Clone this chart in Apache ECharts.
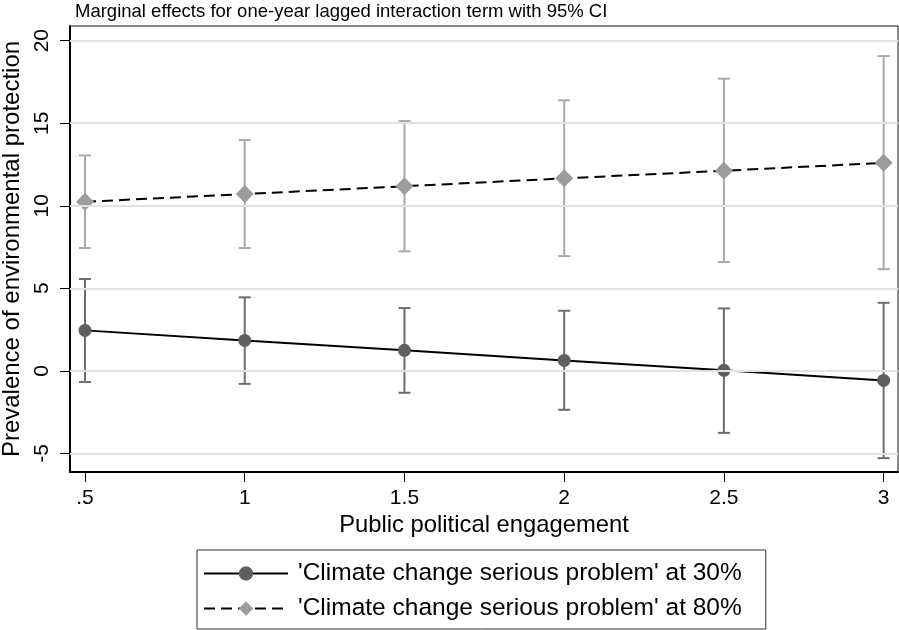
<!DOCTYPE html>
<html>
<head>
<meta charset="utf-8">
<script src="https://cdn.jsdelivr.net/npm/echarts@6/dist/echarts.min.js"></script>
<style>
  html, body { margin: 0; padding: 0; background: #fff; }
  #chart { width: 899px; height: 630px; }
</style>
</head>
<body>
<div id="chart"></div>
<script>
// Values of public political engagement at which marginal effects were computed
const engagement = [0.5, 1, 1.5, 2, 2.5, 3];
const xTicks = [0.5, 1, 1.5, 2, 2.5, 3];
const yTicks = [-5, 0, 5, 10, 15, 20];

// 'Climate change serious problem' at 30%: estimate and 95% CI
const est30 = [2.45, 1.84, 1.24, 0.63, 0.03, -0.58];
const lo30 = [-0.68, -0.79, -1.33, -2.36, -3.76, -5.29];
const hi30 = [5.56, 4.45, 3.80, 3.64, 3.78, 4.12];

// 'Climate change serious problem' at 80%: estimate and 95% CI
const est80 = [10.24, 10.71, 11.18, 11.66, 12.12, 12.60];
const lo80 = [7.44, 7.44, 7.24, 6.95, 6.59, 6.16];
const hi80 = [13.05, 13.98, 15.13, 16.39, 17.70, 19.07];

const name30 = "'Climate change serious problem' at 30%";
const name80 = "'Climate change serious problem' at 80%";

const FONT = '"Liberation Sans", Arial, sans-serif';

function pairs(xs, ys) { return xs.map((x, i) => [x, ys[i]]); }
function triples(xs, lo, hi) { return xs.map((x, i) => [x, lo[i], hi[i]]); }

// Capped vertical error bar drawn in data coordinates
function ciRenderer(color, capHalf, width) {
  return function (params, api) {
    const x = api.value(0);
    const pLo = api.coord([x, api.value(1)]);
    const pHi = api.coord([x, api.value(2)]);
    const style = { stroke: color, lineWidth: width, fill: null };
    return {
      type: 'group',
      children: [
        { type: 'line', shape: { x1: pLo[0], y1: pLo[1], x2: pHi[0], y2: pHi[1] }, style },
        { type: 'line', shape: { x1: pHi[0] - capHalf, y1: pHi[1], x2: pHi[0] + capHalf, y2: pHi[1] }, style },
        { type: 'line', shape: { x1: pLo[0] - capHalf, y1: pLo[1], x2: pLo[0] + capHalf, y2: pLo[1] }, style }
      ]
    };
  };
}

const chart = echarts.init(document.getElementById('chart'), null, { renderer: 'canvas' });

chart.setOption({
  animation: false,
  backgroundColor: '#ffffff',
  textStyle: { fontFamily: FONT, color: '#000' },
  title: {
    text: 'Marginal effects for one-year lagged interaction term with 95% CI',
    left: 75,
    top: 2,
    padding: 0,
    textStyle: { fontFamily: FONT, fontSize: 18.5, fontWeight: 'normal', color: '#000' }
  },
  grid: {
    left: 70, right: 1, top: 26, bottom: 158,
    outerBoundsMode: 'none',
    containLabel: false,
    show: true, borderColor: '#111', borderWidth: 1, backgroundColor: '#fff'
  },
  legend: {
    data: [name30, name80],
    orient: 'vertical',
    left: 197,
    top: 550,
    padding: [11, 24, 8, 6],
    itemGap: 10,
    itemWidth: 84,
    itemHeight: 18,
    borderColor: '#333',
    borderWidth: 1,
    textStyle: { fontFamily: FONT, fontSize: 24.5, lineHeight: 24, color: '#000', padding: [0, 0, 0, 5] }
  },
  xAxis: {
    type: 'value',
    min: 0.453,
    max: 3.045,
    name: 'Public political engagement',
    nameLocation: 'middle',
    nameGap: 37,
    nameTextStyle: { fontFamily: FONT, fontSize: 23.8, color: '#000' },
    axisLine: { onZero: false, lineStyle: { color: '#000', width: 2 } },
    axisTick: { show: true, customValues: xTicks, length: 10, lineStyle: { color: '#000', width: 1 } },
    axisLabel: {
      customValues: xTicks,
      margin: 16,
      fontFamily: FONT, fontSize: 21, color: '#000',
      formatter: v => String(v).replace(/^0\./, '.')
    },
    splitLine: { show: false }
  },
  yAxis: {
    type: 'value',
    min: -6.13,
    max: 20.89,
    name: 'Prevalence of environmental protection',
    nameLocation: 'middle',
    nameRotate: 90,
    nameGap: 41,
    nameTextStyle: { fontFamily: FONT, fontSize: 24, color: '#000' },
    axisLine: { show: true, onZero: false, lineStyle: { color: '#000', width: 2 } },
    axisTick: { show: true, customValues: yTicks, length: 10, lineStyle: { color: '#000', width: 1 } },
    axisLabel: {
      customValues: yTicks,
      rotate: 90,
      margin: 17,
      fontFamily: FONT, fontSize: 21, color: '#000'
    },
    splitLine: { show: false }
  },
  series: [
    {
      // horizontal reference lines at the y ticks
      type: 'line',
      data: [],
      z: 0,
      silent: true,
      markLine: {
        silent: true,
        symbol: 'none',
        label: { show: false },
        lineStyle: { color: '#e2e2e2', width: 2, type: 'solid' },
        data: yTicks.map(v => ({ yAxis: v }))
      }
    },
    {
      type: 'custom',
      name: 'ci80',
      renderItem: ciRenderer('#a9a9a9', 6, 2),
      data: triples(engagement, lo80, hi80),
      encode: { x: 0, y: [1, 2] },
      z: 2,
      silent: true
    },
    {
      type: 'custom',
      name: 'ci30',
      renderItem: ciRenderer('#6d6d6d', 6, 2),
      data: triples(engagement, lo30, hi30),
      encode: { x: 0, y: [1, 2] },
      z: 2,
      silent: true
    },
    {
      type: 'line',
      name: name30,
      data: pairs(engagement, est30),
      symbol: 'circle',
      symbolSize: 13,
      showAllSymbol: true,
      lineStyle: { color: '#000', width: 2, type: 'solid' },
      itemStyle: { color: '#5f5f5f', borderWidth: 0 },
      z: 3
    },
    {
      type: 'line',
      name: name80,
      data: pairs(engagement, est80),
      symbol: 'diamond',
      symbolSize: [18, 18],
      showAllSymbol: true,
      lineStyle: { color: '#000', width: 2, type: [11, 6] },
      itemStyle: { color: '#9c9c9c', borderWidth: 0 },
      z: 3
    }
  ]
});
</script>
</body>
</html>
